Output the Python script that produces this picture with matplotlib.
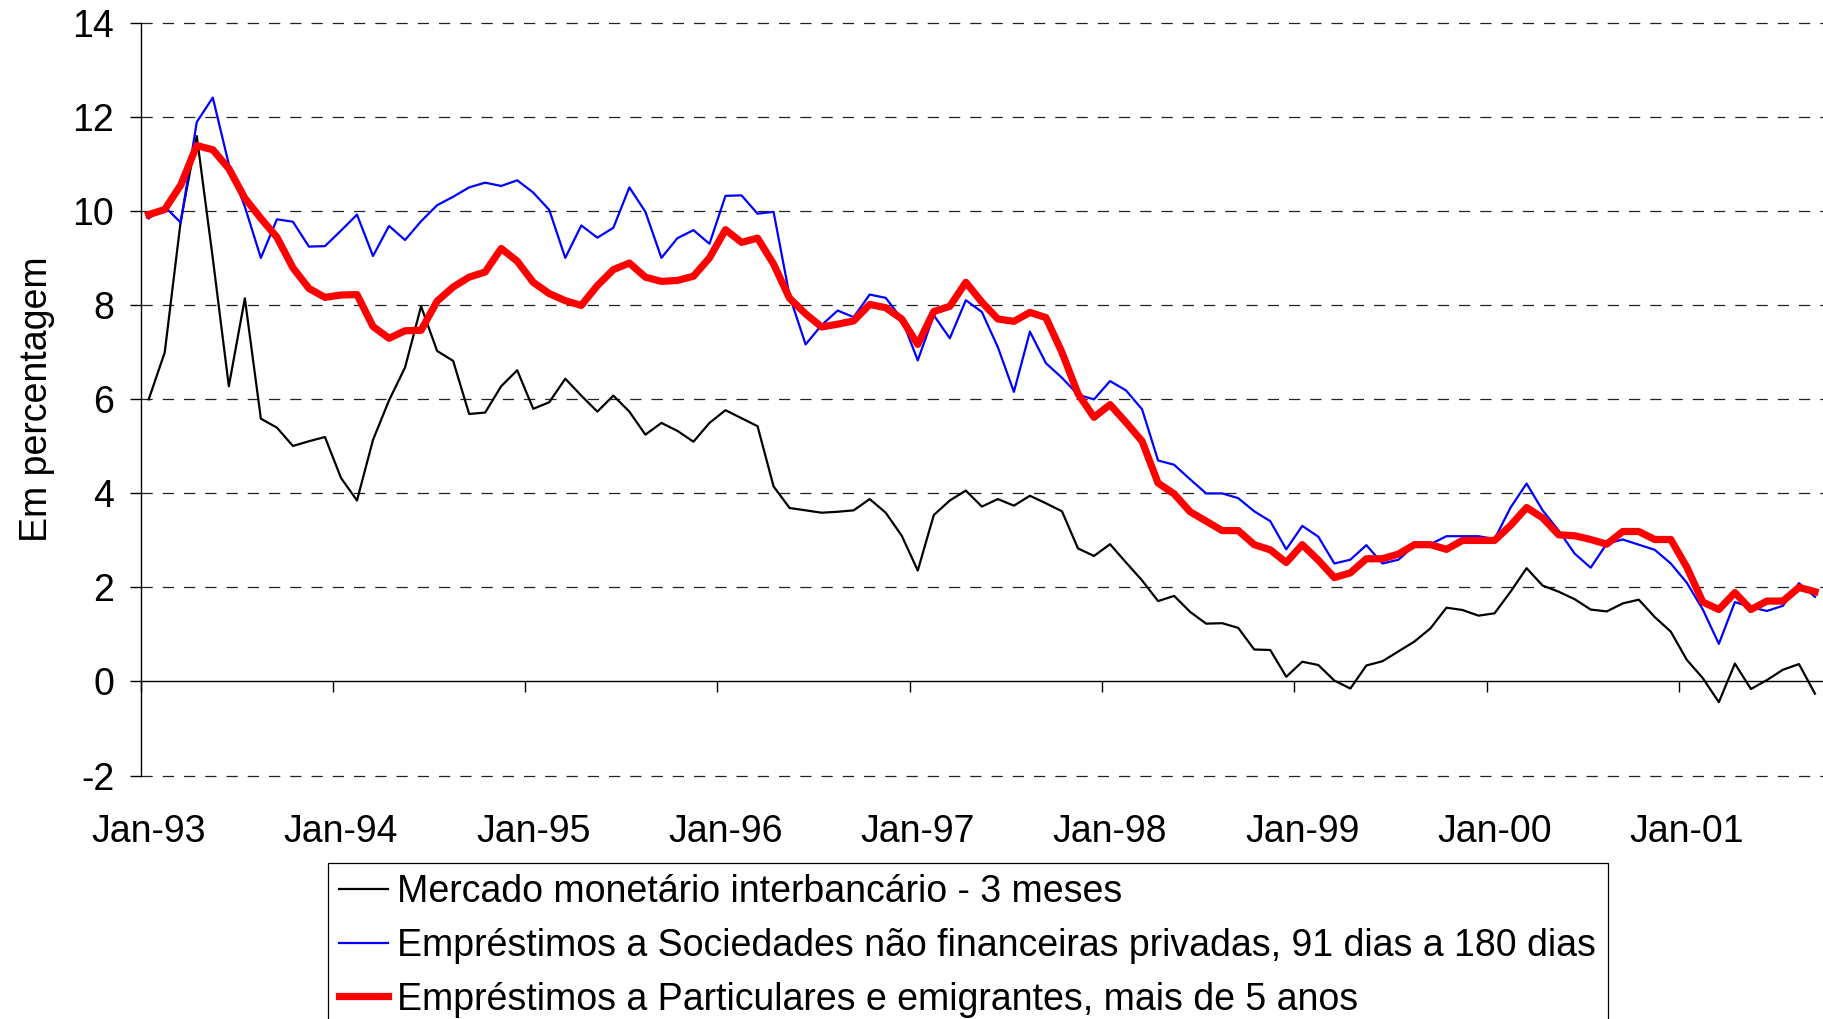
import numpy as np
import pandas as pd
import matplotlib
matplotlib.use('Agg')
import matplotlib.pyplot as plt

plt.rcParams['font.family'] = ['Liberation Sans', 'DejaVu Sans']
plt.rcParams['axes.unicode_minus'] = False

# monthly categories Jan-93 .. Sep-01
months = pd.date_range('1993-01-01', periods=105, freq='MS')
year_labels = [m.strftime('%b-%y') for m in months if m.month == 1]

mmi_3m = [
    6.0, 7.0, 9.8, 11.6, 9.0, 6.28, 8.15, 5.59, 5.40, 5.01, 5.11, 5.20,
    4.33, 3.85, 5.14, 5.98, 6.68, 7.98, 7.03, 6.82, 5.69, 5.72, 6.28, 6.62,
    5.80, 5.94, 6.44, 6.08, 5.74, 6.08, 5.74, 5.25, 5.50, 5.33, 5.10, 5.50,
    5.77, 5.60, 5.43, 4.15, 3.69, 3.64, 3.59, 3.61, 3.64, 3.88, 3.59, 3.10,
    2.36, 3.54, 3.85, 4.06, 3.72, 3.88, 3.74, 3.95, 3.79, 3.62, 2.83, 2.67,
    2.92, 2.53, 2.15, 1.71, 1.82, 1.48, 1.23, 1.24, 1.14, 0.68, 0.67, 0.10,
    0.42, 0.35, 0.02, -0.15, 0.34, 0.43, 0.64, 0.85, 1.13, 1.57, 1.52, 1.40,
    1.45, 1.91, 2.41, 2.04, 1.91, 1.75, 1.53, 1.49, 1.66, 1.74, 1.37, 1.06,
    0.46, 0.07, -0.44, 0.38, -0.16, 0.03, 0.25, 0.37, -0.26,
]

soc_91_180 = [
    9.85, 10.1, 9.76, 11.9, 12.42, 11.0, 10.1, 9.01, 9.83, 9.78, 9.25, 9.26,
    9.59, 9.93, 9.05, 9.69, 9.39, 9.79, 10.13, 10.31, 10.51, 10.61, 10.54, 10.66,
    10.40, 10.03, 9.01, 9.70, 9.44, 9.65, 10.51, 9.99, 9.01, 9.43, 9.60, 9.31,
    10.33, 10.34, 9.95, 9.99, 8.2, 7.17, 7.58, 7.89, 7.75, 8.23, 8.16, 7.71,
    6.83, 7.79, 7.30, 8.11, 7.86, 7.11, 6.16, 7.44, 6.77, 6.46, 6.10, 6.00,
    6.39, 6.19, 5.79, 4.70, 4.61, 4.30, 4.00, 4.00, 3.90, 3.62, 3.41, 2.81,
    3.31, 3.08, 2.51, 2.59, 2.90, 2.51, 2.59, 2.89, 2.92, 3.09, 3.09, 3.09,
    3.03, 3.70, 4.21, 3.64, 3.21, 2.72, 2.42, 2.93, 3.02, 2.91, 2.80, 2.51,
    2.10, 1.53, 0.80, 1.69, 1.58, 1.50, 1.61, 2.09, 1.80,
]

part_5anos = [
    9.93, 10.04, 10.56, 11.40, 11.31, 10.91, 10.28, 9.85, 9.45, 8.80, 8.36, 8.17,
    8.22, 8.23, 7.55, 7.30, 7.46, 7.47, 8.09, 8.39, 8.60, 8.71, 9.21, 8.94,
    8.49, 8.25, 8.10, 8.00, 8.42, 8.76, 8.90, 8.60, 8.51, 8.53, 8.62, 9.01,
    9.61, 9.34, 9.43, 8.88, 8.15, 7.82, 7.54, 7.60, 7.67, 8.02, 7.95, 7.71,
    7.17, 7.87, 7.98, 8.49, 8.07, 7.71, 7.66, 7.85, 7.74, 7.00, 6.12, 5.62,
    5.89, 5.51, 5.11, 4.22, 3.99, 3.61, 3.41, 3.21, 3.21, 2.91, 2.80, 2.53,
    2.91, 2.58, 2.21, 2.31, 2.61, 2.61, 2.71, 2.91, 2.91, 2.81, 3.00, 3.00,
    3.00, 3.32, 3.70, 3.48, 3.12, 3.10, 3.02, 2.92, 3.19, 3.19, 3.02, 3.02,
    2.43, 1.69, 1.53, 1.89, 1.53, 1.71, 1.71, 2.00, 1.91,
]

series_names = [
    'Mercado monetário interbancário - 3 meses',
    'Empréstimos a Sociedades não financeiras privadas, 91 dias a 180 dias',
    'Empréstimos a Particulares e emigrantes, mais de 5 anos',
]

yticks = [-2, 0, 2, 4, 6, 8, 10, 12, 14]

W, H = 1823, 1019
fig = plt.figure(figsize=(W / 100, H / 100), dpi=100)
ax = fig.add_axes([140.7 / W, 1 - 775.5 / H, 1 - 140.7 / W, (775.5 - 23.3) / H])

n = len(months)
x = np.arange(n) + 0.5  # category centres

fs = 27

for v in yticks:
    if v == 0:
        continue
    ax.axhline(v, color='#222222', lw=0.9, ls=(0, (9, 8)), clip_on=False, zorder=1)

l1, = ax.plot(x, mmi_3m, color='black', lw=1.6, zorder=3)
l2, = ax.plot(x, soc_91_180, color='#0000ff', lw=1.6, zorder=4)
l3, = ax.plot(x, part_5anos, color='#ff0000', lw=5.2, zorder=5)

ax.set_xlim(0, n)
ax.set_ylim(-2, 14)

for s in ['top', 'right']:
    ax.spines[s].set_visible(False)
ax.spines['left'].set_linewidth(1.0)
ax.spines['bottom'].set_position(('data', 0))
ax.spines['bottom'].set_linewidth(1.0)

# year boundary tick marks on the zero line
ax.set_xticks(np.arange(0, n + 1, 12))
ax.tick_params(axis='x', direction='out', length=8, width=1.0, labelbottom=False)

# year labels at the bottom of the plot
sec = ax.secondary_xaxis('bottom')
sec.set_xticks(x[::12], year_labels)
sec.tick_params(length=0, pad=28, labelsize=fs)
sec.spines['bottom'].set_visible(False)

ax.set_yticks(yticks)
ax.tick_params(axis='y', direction='out', length=8, width=1.0, pad=11, labelsize=fs)

ax.set_ylabel('Em percentagem', fontsize=fs)
ax.yaxis.set_label_coords(-0.051, 0.5)

leg = fig.legend([l1, l2, l3], series_names, loc='upper left',
                 bbox_to_anchor=(328 / W, 1 - 863 / H), fontsize=fs,
                 frameon=True, fancybox=False, shadow=False, framealpha=1,
                 edgecolor='black', borderpad=0.3, labelspacing=0.47,
                 handlelength=1.3, handletextpad=0.25, borderaxespad=0)
leg.get_frame().set_linewidth(0.9)

fig.savefig('out.png', dpi=100)
